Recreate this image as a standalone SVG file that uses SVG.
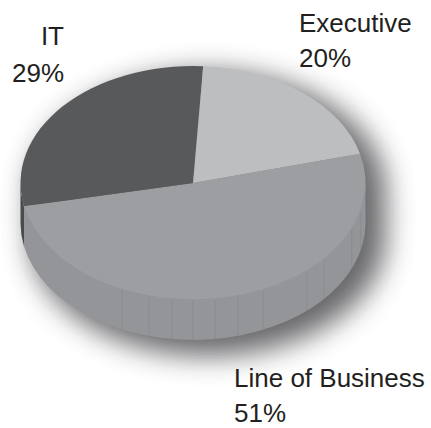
<svg xmlns="http://www.w3.org/2000/svg" width="431" height="428" viewBox="0 0 431 428">
  <style>
    .lbl { font-family: "Liberation Sans", Arial, sans-serif; font-size: 26px; fill: #231f20; }
    .seam { stroke: #86888b; stroke-width: 0.7; fill: none; }
  </style>
  <defs>
    <filter id="blur" x="-30%" y="-30%" width="160%" height="160%">
      <feGaussianBlur stdDeviation="14"/>
    </filter>
  </defs>
  <rect width="431" height="428" fill="#ffffff"/>
  <g id="shadow" filter="url(#blur)" opacity="0.9">
    <path d="M30,192 A178,120 0 0,1 386,192 L386,236 A178,120 0 0,1 30,236 Z" fill="#58595b"/>
  </g>
  <g id="side">
    <path d="M365.5,183 A172.5,117 0 0,1 24,206.3 L24,246.3 A172.5,117 0 0,0 365.5,223 Z" fill="#939598"/>
    <path d="M24,206.3 A172.5,117 0 0,1 20.5,183 L20.5,223 A172.5,117 0 0,0 24,246.3 Z" fill="#4a4b4d"/>
    <g class="seam">
      <line x1="122.3" y1="289.7" x2="122.3" y2="329.7"/>
      <line x1="149" y1="296.1" x2="149" y2="336.1"/>
      <line x1="171.7" y1="299.1" x2="171.7" y2="339.1"/>
      <line x1="192.7" y1="300" x2="192.7" y2="340"/>
      <line x1="215" y1="299" x2="215" y2="339"/>
      <line x1="237.7" y1="296" x2="237.7" y2="336"/>
      <line x1="263.3" y1="289.8" x2="263.3" y2="329.8"/>
      <line x1="306.7" y1="271" x2="306.7" y2="311"/>
      <line x1="324" y1="259.1" x2="324" y2="299.1"/>
      <line x1="351.7" y1="228.9" x2="351.7" y2="268.9"/>
      <line x1="360.7" y1="210.4" x2="360.7" y2="250.4"/>
    </g>
  </g>
  <g id="slice-lob">
    <path d="M193,183 L360,153.7 A172.5,117 0 1,1 24,206.3 Z" fill="#9d9ea1"/>
    <path d="M365.5,183 A172.5,117 0 0,1 24,206.3" fill="none" stroke="#8e9093" stroke-width="0.8"/>
  </g>
  <g id="slice-it">
    <path d="M193,183 L24,206.3 A172.5,117 0 0,1 203.2,66.2 Z" fill="#58595b"/>
  </g>
  <g id="slice-executive">
    <path d="M193,183 L203.2,66.2 A172.5,117 0 0,1 360,153.7 Z" fill="#bcbec0"/>
  </g>
  <g id="label-it">
    <text class="lbl" x="64" y="45" text-anchor="end">IT</text>
    <text class="lbl" x="12" y="82">29%</text>
  </g>
  <g id="label-executive">
    <text class="lbl" x="299" y="32">Executive</text>
    <text class="lbl" x="299" y="67">20%</text>
  </g>
  <g id="label-lob">
    <text class="lbl" x="234" y="387">Line of Business</text>
    <text class="lbl" x="234" y="422">51%</text>
  </g>
</svg>
